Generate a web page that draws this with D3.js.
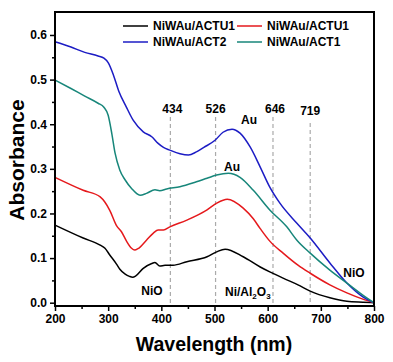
<!DOCTYPE html>
<html>
<head>
<meta charset="utf-8">
<script src="https://cdn.jsdelivr.net/npm/d3@7"></script>
<style>
  body { margin: 0; background: #fff; }
  svg { font-family: "Liberation Sans", Arial, sans-serif; font-weight: bold; }
  .curve { fill: none; stroke-width: 1.5; }
  .guide { stroke: #aaa; stroke-width: 1.2; stroke-dasharray: 4,3; }
</style>
</head>
<body>
<svg width="393" height="362"></svg>
<script>
// series names + colours
const seriesNames = ["NiWAu/ACTU1", "NiWAu/ACTU1", "NiWAu/ACT2", "NiWAu/ACT1"]
const seriesColors = ["#000000", "#e5191c", "#1c1cc4", "#17867a"]

// absorbance, each series with its own wavelengths (nm)
const blackWl = [200, 253, 285, 294, 303, 316, 322, 332, 340, 346, 352, 366, 382, 388, 397, 407, 422, 448, 486, 504, 520, 554, 586, 604, 629, 657, 680, 717, 749, 779, 800]
const black = [0.174, 0.145, 0.129, 0.122, 0.107, 0.086, 0.075, 0.064, 0.059, 0.057, 0.060, 0.077, 0.088, 0.090, 0.082, 0.084, 0.084, 0.092, 0.103, 0.114, 0.120, 0.103, 0.080, 0.069, 0.055, 0.040, 0.026, 0.011, 0.003, 0.001, 0.000]

const redWl = [200, 253, 285, 294, 303, 316, 325, 335, 344, 350, 356, 372, 385, 394, 404, 416, 448, 486, 504, 524, 554, 573, 586, 604, 629, 657, 680, 717, 749, 779, 800]
const red = [0.281, 0.252, 0.237, 0.225, 0.207, 0.172, 0.159, 0.137, 0.122, 0.118, 0.121, 0.140, 0.156, 0.163, 0.163, 0.170, 0.185, 0.208, 0.223, 0.232, 0.212, 0.188, 0.166, 0.138, 0.111, 0.084, 0.066, 0.040, 0.022, 0.008, 0.000]

const blueWl = [200, 230, 256, 281, 292, 300, 310, 320, 334, 347, 366, 382, 394, 404, 416, 435, 451, 466, 480, 501, 516, 533, 548, 567, 586, 604, 623, 655, 680, 717, 749, 779, 800]
const blue = [0.585, 0.573, 0.561, 0.553, 0.548, 0.538, 0.510, 0.474, 0.439, 0.409, 0.383, 0.372, 0.357, 0.348, 0.342, 0.334, 0.331, 0.338, 0.348, 0.364, 0.382, 0.389, 0.380, 0.349, 0.304, 0.259, 0.223, 0.178, 0.145, 0.089, 0.044, 0.013, 0.000]

const tealWl = [200, 230, 256, 281, 292, 300, 307, 313, 322, 332, 344, 360, 372, 388, 397, 410, 435, 466, 486, 504, 526, 548, 573, 604, 636, 655, 680, 717, 749, 779, 800]
const teal = [0.499, 0.480, 0.463, 0.447, 0.438, 0.420, 0.378, 0.335, 0.297, 0.275, 0.256, 0.241, 0.245, 0.253, 0.251, 0.255, 0.260, 0.271, 0.279, 0.286, 0.290, 0.281, 0.252, 0.208, 0.170, 0.140, 0.111, 0.073, 0.044, 0.017, 0.000]

// dashed guide lines: where they sit and what they say
const guideAt = [417, 502, 610, 680]
const guideLabels = ["434", "526", "646", "719"]

const xTicks = [200, 300, 400, 500, 600, 700, 800]
const yTicks = [0.0, 0.1, 0.2, 0.3, 0.4, 0.5, 0.6]

const svg = d3.select("svg")

const plotLeft = 55, plotRight = 374, plotTop = 12, plotBottom = 306

const x = d3.scaleLinear().domain([200, 800]).range([plotLeft, plotRight])
const y = d3.scaleLinear().domain([-0.0074, 0.6515]).range([plotBottom, plotTop])

// guides first so curves go on top
svg.selectAll("line.guide")
  .data(guideAt)
  .enter()
  .append("line")
  .attr("class", "guide")
  .attr("x1", d => x(d)).attr("x2", d => x(d))
  .attr("y1", (d, i) => i == 3 ? 123 : 117)
  .attr("y2", plotBottom)

svg.selectAll("text.glabel")
  .data(guideLabels)
  .enter()
  .append("text")
  .attr("class", "glabel")
  .attr("x", (d, i) => x(guideAt[i]) + (i == 0 ? 2 : i == 2 ? 2 : 0))
  .attr("y", (d, i) => i == 3 ? 115 : 113)
  .attr("text-anchor", "middle")
  .attr("font-size", 12)
  .text(d => d)

// curves
const line = d3.line()
  .x(d => x(d[0]))
  .y(d => y(d[1]))
  .curve(d3.curveMonotoneX)

const allSeries = [
  d3.zip(blackWl, black),
  d3.zip(redWl, red),
  d3.zip(blueWl, blue),
  d3.zip(tealWl, teal)
]
svg.selectAll("path.curve")
  .data(allSeries)
  .enter()
  .append("path")
  .attr("class", "curve")
  .attr("d", line)
  .attr("stroke", (d, i) => seriesColors[i])

// axes
svg.append("g")
  .attr("transform", `translate(0,${plotBottom})`)
  .call(d3.axisBottom(x).tickValues(xTicks).tickSize(5).tickPadding(3).tickFormat(d3.format("d")))
svg.append("g")
  .attr("transform", `translate(0,${plotBottom})`)
  .call(d3.axisBottom(x).tickValues(d3.range(250, 800, 100)).tickSize(3).tickFormat(""))

svg.append("g")
  .attr("transform", `translate(${plotLeft},0)`)
  .call(d3.axisLeft(y).tickValues(yTicks).tickSize(5).tickPadding(3).tickFormat(d3.format(".1f")))
svg.append("g")
  .attr("transform", `translate(${plotLeft},0)`)
  .call(d3.axisLeft(y).tickValues(d3.range(0.05, 0.65, 0.1)).tickSize(3).tickFormat(""))

svg.selectAll(".domain").remove()
svg.selectAll(".tick line").attr("stroke", "#000").attr("stroke-width", 1.5)
svg.selectAll(".tick text").attr("font-size", 12).attr("font-weight", "bold").attr("font-family", "Liberation Sans, Arial, sans-serif").attr("fill", "#000")

// frame
svg.append("rect")
  .attr("x", plotLeft).attr("y", plotTop)
  .attr("width", plotRight - plotLeft).attr("height", plotBottom - plotTop)
  .attr("fill", "none").attr("stroke", "#000").attr("stroke-width", 2)

// axis titles
svg.append("text")
  .attr("transform", "translate(24,160) rotate(-90)")
  .attr("text-anchor", "middle")
  .attr("font-size", 21)
  .text("Absorbance")

svg.append("text")
  .attr("x", 214).attr("y", 351)
  .attr("text-anchor", "middle")
  .attr("font-size", 19.5)
  .text("Wavelength (nm)")

// legend
const legendPos = [[123, 26], [237, 26], [123, 42], [237, 42]]
const legendOrder = [0, 1, 2, 3]
const legend = svg.selectAll("g.legend")
  .data(legendOrder)
  .enter()
  .append("g")
  .attr("class", "legend")
  .attr("transform", (d, i) => `translate(${legendPos[i][0]},${legendPos[i][1]})`)

legend.append("line")
  .attr("x1", 0).attr("x2", 25)
  .attr("stroke", d => seriesColors[d]).attr("stroke-width", 1.5)

legend.append("text")
  .attr("x", 30).attr("y", 4)
  .attr("font-size", 12)
  .text(d => seriesNames[d])

// annotations
svg.append("text").attr("x", 249).attr("y", 124).attr("text-anchor", "middle").attr("font-size", 12).text("Au")
svg.append("text").attr("x", 232).attr("y", 171).attr("text-anchor", "middle").attr("font-size", 12).text("Au")
svg.append("text").attr("x", 152).attr("y", 295).attr("text-anchor", "middle").attr("font-size", 12).text("NiO")
svg.append("text").attr("x", 354).attr("y", 277).attr("text-anchor", "middle").attr("font-size", 12).text("NiO")

const nial = svg.append("text").attr("x", 225).attr("y", 296).attr("font-size", 12)
nial.append("tspan").text("Ni/Al")
nial.append("tspan").attr("dy", 3).attr("font-size", 8).text("2")
nial.append("tspan").attr("dy", -3).text("O")
nial.append("tspan").attr("dy", 3).attr("font-size", 8).text("3")
</script>
</body>
</html>
